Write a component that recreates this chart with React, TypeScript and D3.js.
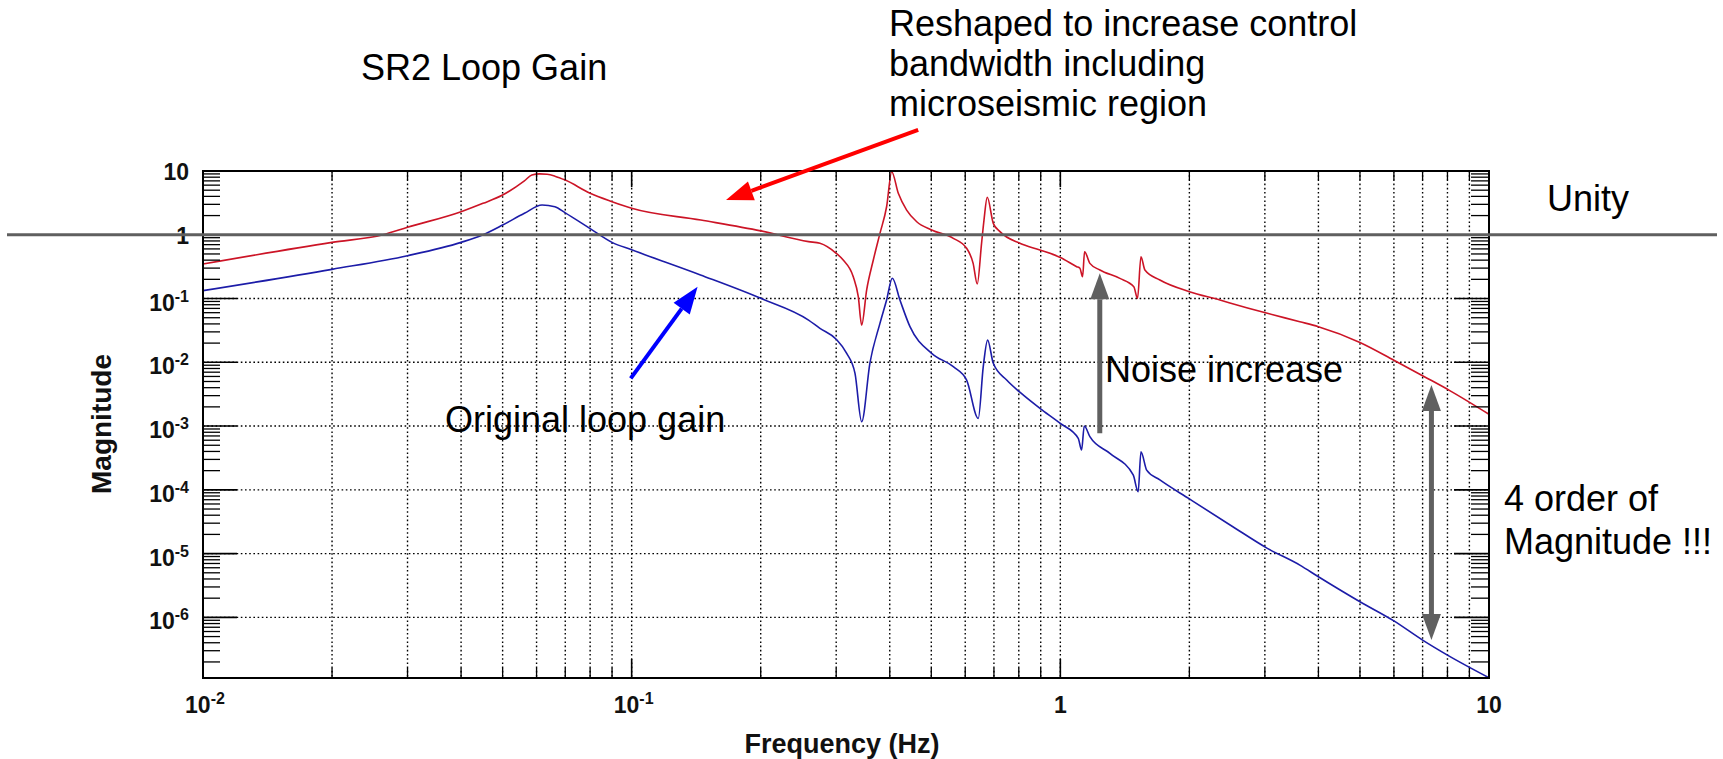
import React from 'react';
import * as d3 from 'd3';

// Reshaped loop gain (red)
const reshapedFreq = [
  0.01, 0.02, 0.0263, 0.03, 0.04, 0.045, 0.05, 0.0562, 0.0585, 0.061, 0.0635, 0.0662, 0.07, 0.08, 0.09, 0.1, 0.145, 0.2,
  0.2586, 0.2749, 0.3, 0.3115, 0.3288, 0.3378, 0.344, 0.3533, 0.3662, 0.3795, 0.3933, 0.4042,
  0.4188, 0.438, 0.4624, 0.501, 0.5628, 0.6045, 0.626, 0.64, 0.655, 0.6636, 0.6754, 0.6976,
  0.7231, 0.8047, 0.896, 1.0, 1.092, 1.111, 1.127, 1.139, 1.172, 1.237, 1.377, 1.484, 1.514,
  1.542, 1.575, 1.707, 2.0, 2.357, 2.475, 3.04, 3.62, 4.0, 5.0, 6.0, 7.05, 8.1, 10,
];
const reshapedMag = [
  0.348, 0.76, 1.0, 1.31, 2.3, 3.11, 4.2, 7.0, 8.65, 9.0, 8.87, 8.3, 7.2, 4.47, 3.3, 2.6, 1.7, 1.15,
  0.78, 0.734, 0.512, 0.402, 0.22, 0.107, 0.0384, 0.136, 0.402, 1.05, 2.75, 9.75,
  4.47, 2.44, 1.6, 1.19, 0.88, 0.614, 0.356, 0.169, 0.734, 1.7, 3.87, 1.51,
  1.12, 0.734, 0.577, 0.44, 0.316, 0.298, 0.22, 0.542, 0.356, 0.28, 0.207, 0.153, 0.1007,
  0.453, 0.28, 0.195, 0.128, 0.0948, 0.0861, 0.0586, 0.0433, 0.0362, 0.0205, 0.0108, 0.006, 0.0036, 0.00153,
];

// Original loop gain (blue)
const originalFreq = [
  0.01, 0.02, 0.03, 0.04, 0.045, 0.05, 0.0562, 0.0618, 0.0662, 0.07, 0.08, 0.09, 0.1, 0.1447, 0.2,
  0.2586, 0.2749, 0.3, 0.3174, 0.3319, 0.344, 0.3595, 0.3795, 0.3933, 0.4055, 0.4225, 0.4459,
  0.501, 0.5628, 0.6045, 0.6435, 0.661, 0.6767, 0.6976, 0.7495, 0.8047, 0.896, 1.0, 1.101,
  1.121, 1.137, 1.172, 1.305, 1.479, 1.519, 1.542, 1.59, 1.707, 2.0, 2.526, 3.04, 3.62, 4.0,
  5.0, 6.0, 7.0, 8.0, 10,
];
const originalMag = [
  0.133, 0.287, 0.47, 0.76, 1.0, 1.42, 2.17, 2.93, 2.75, 2.2, 1.25, 0.76, 0.58, 0.234, 0.1007,
  0.046, 0.0341, 0.023, 0.01384, 0.00672, 0.00117, 0.00964, 0.0408, 0.0948, 0.2075, 0.0948, 0.0362,
  0.01384, 0.00853, 0.00527, 0.00132, 0.00853, 0.0223, 0.00964, 0.00527, 0.0034, 0.0019, 0.0011, 0.000642,
  0.000421, 0.001, 0.000681, 0.000373, 0.000171, 0.0000933, 0.000396, 0.000204, 0.000143, 0.000072, 0.0000264, 0.0000121, 0.0000066, 0.00000434,
  0.00000176, 0.00000088, 0.00000044, 0.000000256, 0.000000113,
];

const xTickValues = [0.01, 0.1, 1, 10];
const xTickBase = ['10', '10', '1', '10'];
const xTickExp = ['-2', '-1', '', ''];
const yTickValues = [10, 1, 0.1, 0.01, 1e-3, 1e-4, 1e-5, 1e-6];
const yTickBase = ['10', '1', '10', '10', '10', '10', '10', '10'];
const yTickExp = ['', '', '-1', '-2', '-3', '-4', '-5', '-6'];

const X_DOMAIN = [0.01, 10];
const Y_DOMAIN = [1.12e-7, 10];

const W = 1723;
const H = 759;
const L = 203, R = 1489, T = 171, B = 678;

const FONT = "'Liberation Sans', Arial, Helvetica, sans-serif";

function arrowShapes(x1: number, y1: number, x2: number, y2: number, hl: number, hw: number) {
  const dx = x2 - x1, dy = y2 - y1;
  const len = Math.sqrt(dx * dx + dy * dy);
  const ux = dx / len, uy = dy / len;
  const bx = x2 - ux * hl, by = y2 - uy * hl;
  const px = -uy, py = ux;
  const head = `${x2},${y2} ${bx + px * hw / 2},${by + py * hw / 2} ${bx - px * hw / 2},${by - py * hw / 2}`;
  return { bx, by, head };
}

function Arrow({ x1, y1, x2, y2, color, width, hl, hw, double }: any) {
  const a = arrowShapes(x1, y1, x2, y2, hl, hw);
  if (double) {
    const b = arrowShapes(x2, y2, x1, y1, hl, hw);
    return (
      <g>
        <line x1={b.bx} y1={b.by} x2={a.bx} y2={a.by} stroke={color} strokeWidth={width} />
        <polygon points={a.head} fill={color} />
        <polygon points={b.head} fill={color} />
      </g>
    );
  }
  return (
    <g>
      <line x1={x1} y1={y1} x2={a.bx} y2={a.by} stroke={color} strokeWidth={width} />
      <polygon points={a.head} fill={color} />
    </g>
  );
}

export default function App() {
  const x = d3.scaleLog().domain(X_DOMAIN).range([L, R]);
  const y = d3.scaleLog().domain(Y_DOMAIN).range([B, T]);

  const line = d3.line<[number, number]>().x(d => x(d[0])).y(d => y(d[1])).curve(d3.curveMonotoneX);
  const redPts = reshapedFreq.map((f, i) => [f, reshapedMag[i]] as [number, number]);
  const bluePts = originalFreq.map((f, i) => [f, originalMag[i]] as [number, number]);

  const xMinor: number[] = [];
  [0.01, 0.1, 1].forEach(d => { for (let k = 2; k <= 9; k++) xMinor.push(d * k); });
  const yMinor: number[] = [];
  [1e-7, 1e-6, 1e-5, 1e-4, 1e-3, 1e-2, 1e-1, 1].forEach(d => {
    for (let k = 2; k <= 9; k++) { const v = d * k; if (v >= Y_DOMAIN[0] && v <= Y_DOMAIN[1]) yMinor.push(v); }
  });

  const grid = { stroke: '#000', strokeWidth: 1.4, strokeDasharray: '1.6,2.6' };

  // annotation anchors (data space)
  const redA = { f1: 0.466, m1: 44, f2: 0.166, m2: 3.5 };
  const blueA = { f1: 0.0995, m1: 0.0056, f2: 0.1425, m2: 0.153 };
  const noiseA = { f: 1.236, m1: 7.7e-4, m2: 0.249 };
  const orderA = { f: 7.34, m1: 4.4e-7, m2: 0.0044 };

  return (
    <svg width={W} height={H} style={{ position: 'absolute', left: 0, top: 0, background: '#fff' }} fontFamily={FONT}>
      <rect x={0} y={0} width={W} height={H} fill="#fff" />
      {/* grid */}
      {[...xTickValues, ...xMinor].filter(v => v > X_DOMAIN[0] && v < X_DOMAIN[1]).map((v, i) => (
        <line key={'gx' + i} x1={x(v)} x2={x(v)} y1={T} y2={B} {...grid} />
      ))}
      {yTickValues.filter(v => v < Y_DOMAIN[1]).map((v, i) => (
        <line key={'gy' + i} x1={L} x2={R} y1={y(v)} y2={y(v)} {...grid} />
      ))}

      {/* curves */}
      <path d={line(redPts) || ''} fill="none" stroke="#cc1426" strokeWidth={1.6} strokeLinejoin="round" />
      <path d={line(bluePts) || ''} fill="none" stroke="#1c1ca8" strokeWidth={1.6} strokeLinejoin="round" />

      {/* ticks */}
      {yTickValues.map((v, i) => (
        <g key={'yt' + i}>
          <line x1={L} x2={L + 34} y1={y(v)} y2={y(v)} stroke="#000" strokeWidth={1.6} />
          <line x1={R} x2={R - 35} y1={y(v)} y2={y(v)} stroke="#000" strokeWidth={1.6} />
        </g>
      ))}
      {yMinor.map((v, i) => (
        <g key={'ym' + i}>
          <line x1={L} x2={L + 17} y1={y(v)} y2={y(v)} stroke="#000" strokeWidth={1.3} />
          <line x1={R} x2={R - 18} y1={y(v)} y2={y(v)} stroke="#000" strokeWidth={1.3} />
        </g>
      ))}
      {xTickValues.map((v, i) => (
        <g key={'xt' + i}>
          <line x1={x(v)} x2={x(v)} y1={B} y2={B - 19} stroke="#000" strokeWidth={1.6} />
          <line x1={x(v)} x2={x(v)} y1={T} y2={T + 16} stroke="#000" strokeWidth={1.6} />
        </g>
      ))}
      {xMinor.map((v, i) => (
        <g key={'xm' + i}>
          <line x1={x(v)} x2={x(v)} y1={B} y2={B - 10} stroke="#000" strokeWidth={1.3} />
          <line x1={x(v)} x2={x(v)} y1={T} y2={T + 9} stroke="#000" strokeWidth={1.3} />
        </g>
      ))}
      <rect x={L} y={T} width={R - L} height={B - T} fill="none" stroke="#000" strokeWidth={2} />

      {/* tick labels */}
      {yTickValues.map((v, i) => (
        <text key={'yl' + i} x={189} y={y(v) + (yTickExp[i] ? 12 : 9)} textAnchor="end" fontWeight="bold" fontSize={23} fill="#111">
          <tspan>{yTickBase[i]}</tspan>
          {yTickExp[i] ? <tspan dy={-9} fontSize={16}>{yTickExp[i]}</tspan> : null}
        </text>
      ))}
      {xTickValues.map((v, i) => (
        <text key={'xl' + i} x={x(v) + (xTickExp[i] ? 2 : 0)} y={713} textAnchor="middle" fontWeight="bold" fontSize={23} fill="#111">
          <tspan>{xTickBase[i]}</tspan>
          {xTickExp[i] ? <tspan dy={-9} fontSize={16}>{xTickExp[i]}</tspan> : null}
        </text>
      ))}

      {/* axis titles */}
      <text x={842} y={753} textAnchor="middle" fontWeight="bold" fontSize={27} fill="#111">Frequency (Hz)</text>
      <text transform={`translate(111,424) rotate(-90)`} textAnchor="middle" fontWeight="bold" fontSize={28} fill="#111">Magnitude</text>

      {/* unity line */}
      <line x1={7} x2={1717} y1={y(1)} y2={y(1)} stroke="#5f5f5f" strokeWidth={3.2} />

      {/* arrows */}
      <Arrow x1={x(redA.f1)} y1={y(redA.m1)} x2={x(redA.f2)} y2={y(redA.m2)} color="#ff0000" width={4} hl={27} hw={20} />
      <Arrow x1={x(blueA.f1)} y1={y(blueA.m1)} x2={x(blueA.f2)} y2={y(blueA.m2)} color="#0000ff" width={4} hl={27} hw={20} />
      <Arrow x1={x(noiseA.f)} y1={y(noiseA.m1)} x2={x(noiseA.f)} y2={y(noiseA.m2)} color="#606060" width={5} hl={26} hw={19} />
      <Arrow x1={x(orderA.f)} y1={y(orderA.m1)} x2={x(orderA.f)} y2={y(orderA.m2)} color="#606060" width={5} hl={26} hw={19} double />

      {/* annotation texts */}
      <g fontSize={36} fill="#000">
        <text x={361} y={80}>SR2 Loop Gain</text>
        <text x={889} y={36}>Reshaped to increase control</text>
        <text x={889} y={76}>bandwidth including</text>
        <text x={889} y={116}>microseismic region</text>
        <text x={1547} y={211}>Unity</text>
        <text x={445} y={432}>Original loop gain</text>
        <text x={1105} y={382}>Noise increase</text>
        <text x={1504} y={511}>4 order of</text>
        <text x={1504} y={554}>Magnitude !!!</text>
      </g>
    </svg>
  );
}
